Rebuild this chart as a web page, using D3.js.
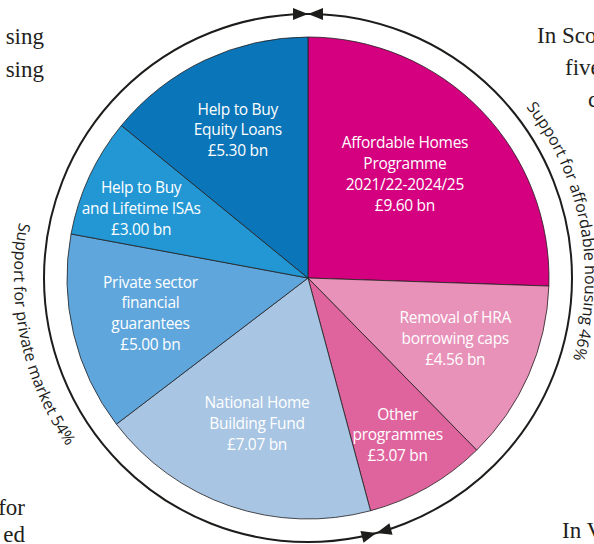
<!DOCTYPE html>
<html>
<head>
<meta charset="utf-8">
<script src="https://cdn.jsdelivr.net/npm/d3@7"></script>
<style>
    body { margin: 0; background: #fff; }
</style>
</head>
<body>
<div id="chart"></div>
<script>
// housing support by scheme, £ bn, clockwise from 12 o'clock
const schemes = ["Affordable Homes Programme", "Removal of HRA borrowing caps", "Other programmes",
    "National Home Building Fund", "Private sector financial guarantees",
    "Help to Buy and Lifetime ISAs", "Help to Buy Equity Loans"];
const labelLines = [
    ["Affordable Homes", "Programme", "2021/22-2024/25"],
    ["Removal of HRA", "borrowing caps"],
    ["Other", "programmes"],
    ["National Home", "Building Fund"],
    ["Private sector", "financial", "guarantees"],
    ["Help to Buy", "and Lifetime ISAs"],
    ["Help to Buy", "Equity Loans"]
];
const amounts = [9.60, 4.56, 3.07, 7.07, 5.00, 3.00, 5.30];
const valueLabels = ["£9.60 bn", "£4.56 bn", "£3.07 bn", "£7.07 bn", "£5.00 bn", "£3.00 bn", "£5.30 bn"];
const groupOf = [0, 0, 0, 1, 1, 1, 1];
const groupNames = ["Support for affordable housing 46%", "Support for private market 54%"];

// bits of the surrounding page text that show at the edges
const pageText = [
    { t: "sing", x: 44, y: 44, anchor: "end" },
    { t: "sing", x: 44, y: 77, anchor: "end" },
    { t: "In Sco", x: 537, y: 43, anchor: "start" },
    { t: "five", x: 565, y: 75, anchor: "start" },
    { t: "c", x: 588, y: 107, anchor: "start" },
    { t: "for", x: 25, y: 515, anchor: "end" },
    { t: "ed", x: 25, y: 542, anchor: "end" },
    { t: "In V", x: 562, y: 538, anchor: "start" }
];

drawChart()

function drawChart() {
    var width = 594,
        height = 544,
        cx = 308,
        cy = 278,
        radius = 241,
        ringRadius = 264;

    var colours = ["#d5007f", "#e891b9", "#df649d", "#a8c5e3", "#5ea6dc", "#2297d4", "#0a75b8"];
    // how far out each label sits (share of radius) and a small turn off the slice middle (degrees)
    var labelRadius = [0.59, 0.66, 0.75, 0.64, 0.67, 0.75, 0.68];
    var labelTurn = [-3, -1.5, 0, 0.5, 0.8, -2.3, 0];

    var svg = d3.select("#chart")
        .append("svg")
        .attr("width", width)
        .attr("height", height);

    svg.selectAll(".page")
        .data(pageText)
        .enter()
        .append("text")
        .attr("x", d => d.x)
        .attr("y", d => d.y)
        .attr("text-anchor", d => d.anchor)
        .style("font-family", "'Liberation Serif', 'DejaVu Serif', serif")
        .style("font-size", "23px")
        .style("fill", "#231f20")
        .text(d => d.t);

    var g = svg.append("g")
        .attr("transform", "translate(" + cx + "," + cy + ")");

    var data = amounts.map((v, i) => ({ name: schemes[i], value: v, i: i }));

    var pie = d3.pie()
        .sort(null)
        .value(d => d.value);
    var slices = pie(data);

    var arc = d3.arc()
        .innerRadius(0)
        .outerRadius(radius);

    g.selectAll(".slice")
        .data(slices)
        .enter()
        .append("path")
        .attr("d", arc)
        .attr("fill", d => colours[d.data.i])
        .attr("stroke", "#231f20")
        .attr("stroke-width", 0.8);

    // slice labels
    slices.forEach(function (s) {
        var i = s.data.i;
        var mid = (s.startAngle + s.endAngle) / 2 + labelTurn[i] * Math.PI / 180;
        var r = radius * labelRadius[i];
        var x = r * Math.sin(mid);
        var y = -r * Math.cos(mid);
        var lines = labelLines[i].concat([valueLabels[i]]);
        var step = 20.8;
        var y0 = y - (lines.length - 1) * step / 2 + 5.5;
        var t = g.append("text")
            .attr("text-anchor", "middle")
            .style("font-family", "'Open Sans', 'Noto Sans', sans-serif")
            .style("font-size", "15.5px")
            .style("letter-spacing", "-0.3px")
            .style("fill", "#fff");
        lines.forEach(function (line, k) {
            t.append("tspan")
                .attr("x", x)
                .attr("y", y0 + k * step)
                .text(line);
        });
    });

    // outer ring
    g.append("circle")
        .attr("r", ringRadius)
        .attr("fill", "none")
        .attr("stroke", "#1d1d1b")
        .attr("stroke-width", 2);

    // group spans
    var spans = [];
    slices.forEach(function (s) {
        var k = groupOf[s.data.i];
        if (!spans[k]) spans[k] = { start: s.startAngle, end: s.endAngle };
        else spans[k].end = s.endAngle;
    });

    // arrow heads meeting at each group boundary
    spans.forEach(function (sp) {
        var deg = sp.start * 180 / Math.PI;
        var a = g.append("g")
            .attr("transform", "rotate(" + deg + ") translate(0," + (-ringRadius) + ")");
        a.append("path").attr("d", "M0,0L-15,-6L-15,6Z").attr("fill", "#1d1d1b");
        a.append("path").attr("d", "M0,0L15,-6L15,6Z").attr("fill", "#1d1d1b");
    });

    // curved group names outside the ring
    function pt(r, ang) {
        return [r * Math.sin(ang), -r * Math.cos(ang)];
    }
    var shifts = [-3 * Math.PI / 180, -4.5 * Math.PI / 180];
    var defs = svg.append("defs");
    spans.forEach(function (sp, k) {
        var mid = (sp.start + sp.end) / 2 + shifts[k];
        var half = 80 * Math.PI / 180;
        var d, r, p0, p1;
        if (k === 0) {
            // clockwise, letters stand outwards
            r = 277;
            p0 = pt(r, mid - half);
            p1 = pt(r, mid + half);
            d = "M" + p0 + "A" + r + "," + r + " 0 0 1 " + p1;
        } else {
            // anticlockwise, letters lean in towards the pie
            r = 294;
            p0 = pt(r, mid + half);
            p1 = pt(r, mid - half);
            d = "M" + p0 + "A" + r + "," + r + " 0 0 0 " + p1;
        }
        defs.append("path")
            .attr("id", "grp" + k)
            .attr("d", d)
            .attr("transform", "translate(" + cx + "," + cy + ")");
        svg.append("text")
            .style("font-family", "'Open Sans', 'Noto Sans', sans-serif")
            .style("font-size", "16px")
            .style("fill", "#1d1d1b")
            .append("textPath")
            .attr("href", "#grp" + k)
            .attr("startOffset", "50%")
            .attr("text-anchor", "middle")
            .text(groupNames[k]);
    });
}
</script>
</body>
</html>
